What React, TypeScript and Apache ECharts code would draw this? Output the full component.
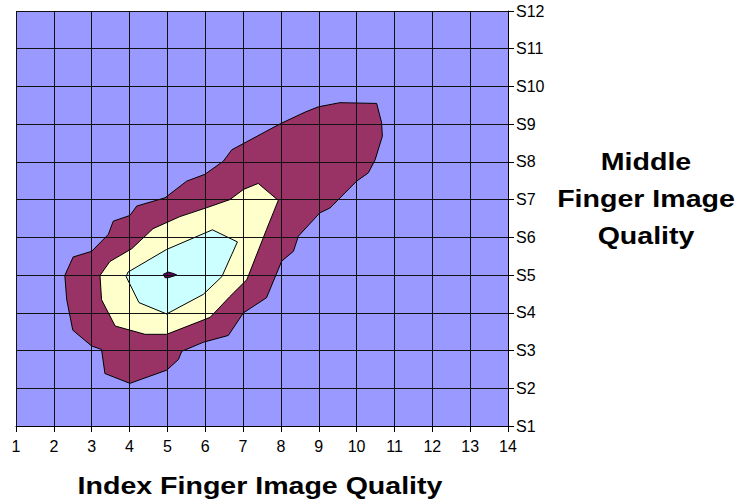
import React, { useEffect, useRef } from "react";
import * as echarts from "echarts";

// Axis values
const xTicks = [1, 2, 3, 4, 5, 6, 7, 8, 9, 10, 11, 12, 13, 14];
const yCategories = ["S1", "S2", "S3", "S4", "S5", "S6", "S7", "S8", "S9", "S10", "S11", "S12"];

// Contour band boundaries, [index quality, middle quality (1 = S1)]
const outerBand: number[][] = [
  [10.53, 9.55], [10.66, 9.04], [10.68, 8.68], [10.49, 8.06], [10.31, 7.71],
  [10.0, 7.49], [9.3, 6.78], [9.03, 6.65], [8.46, 6.03], [8.33, 5.63],
  [8.02, 5.37], [7.62, 4.4], [7.01, 4.0], [6.61, 3.4], [5.95, 3.22],
  [5.38, 2.98], [5.29, 2.76], [4.98, 2.48], [4.01, 2.13], [3.35, 2.39],
  [3.26, 3.03], [3.0, 3.12], [2.5, 3.54], [2.34, 4.35], [2.29, 4.99],
  [2.51, 5.48], [3.0, 5.63], [3.44, 6.08], [3.57, 6.43], [4.01, 6.58],
  [4.19, 6.83], [4.94, 7.05], [5.51, 7.49], [5.99, 7.67], [6.48, 8.02],
  [6.7, 8.32], [7.98, 9.01], [8.64, 9.32], [8.99, 9.46], [9.56, 9.57],
];
const middleBand: number[][] = [
  [7.4, 7.43], [7.93, 6.98], [7.62, 6.21], [7.1, 4.88], [6.65, 4.43],
  [6.13, 3.88], [4.98, 3.43], [4.41, 3.43], [3.62, 3.65], [3.26, 4.35],
  [3.22, 4.99], [3.48, 5.36], [4.06, 5.7], [4.62, 6.23], [5.33, 6.55],
  [6.05, 6.79], [6.65, 7.0], [7.01, 7.27],
];
const innerBand: number[][] = [
  [6.19, 6.2], [6.85, 5.88], [6.44, 4.96], [5.95, 4.49], [4.98, 3.97],
  [4.25, 4.27], [3.91, 4.96], [3.96, 5.08], [4.98, 5.68],
];
const peakBand: number[][] = [
  [4.89, 5.02], [5.02, 5.08], [5.17, 5.04], [5.25, 5.0], [5.02, 4.93], [4.94, 4.93],
];

const FONT = '"Liberation Sans", Arial, Helvetica, sans-serif';
const NARROW = '"Liberation Sans Narrow", "Arial Narrow", "Liberation Sans", sans-serif';

function polySeries(name: string, pts: number[][], color: string, z: number) {
  return {
    type: "custom",
    name,
    z,
    silent: true,
    coordinateSystem: "cartesian2d",
    data: pts.map((p) => [p[0], p[1]]),
    encode: { x: 0, y: 1 },
    renderItem: (params: any, api: any) => {
      if (params.dataIndex !== 0) return null;
      const points = pts.map((p) => api.coord([p[0], p[1]]));
      return {
        type: "polygon",
        shape: { points },
        style: { fill: color, stroke: "#000", lineWidth: 1 },
      };
    },
  };
}

export default function App() {
  const ref = useRef<HTMLDivElement>(null);
  useEffect(() => {
    if (!ref.current) return;
    const chart = echarts.init(ref.current, undefined, { renderer: "svg" });
    const titleStyle = { font: `bold 24px ${FONT}`, fill: "#000", textAlign: "center", textVerticalAlign: "middle" };
    const sx = 1.19;
    chart.setOption({
      animation: false,
      backgroundColor: "#fff",
      grid: { left: 16, top: 11, width: 492, height: 415, show: true, backgroundColor: "#9999FF", borderWidth: 0 },
      xAxis: {
        type: "value",
        min: xTicks[0],
        max: xTicks[xTicks.length - 1],
        interval: 1,
        z: 10,
        axisLine: { show: true, onZero: false, lineStyle: { color: "#000", width: 1 } },
        axisTick: { show: true, length: 6, lineStyle: { color: "#000" } },
        axisLabel: { color: "#000", fontSize: 16, fontFamily: NARROW, margin: 12 },
        splitLine: { show: true, lineStyle: { color: "#111", width: 1 } },
      },
      yAxis: {
        type: "value",
        position: "right",
        min: 1,
        max: yCategories.length,
        interval: 1,
        z: 10,
        axisLine: { show: true, onZero: false, lineStyle: { color: "#000", width: 1 } },
        axisTick: { show: true, length: 6, lineStyle: { color: "#000" } },
        axisLabel: {
          color: "#000",
          fontSize: 16,
          fontFamily: NARROW,
          margin: 8,
          formatter: (v: number) => yCategories[Math.round(v) - 1] ?? "",
        },
        splitLine: { show: true, lineStyle: { color: "#111", width: 1 } },
      },
      series: [
        polySeries("outer", outerBand, "#993366", 2),
        polySeries("middle", middleBand, "#FFFFCC", 3),
        polySeries("inner", innerBand, "#CCFFFF", 4),
        polySeries("peak", peakBand, "#660066", 5),
      ],
      graphic: [
        { type: "text", x: 260, y: 486, scaleX: sx, style: { ...titleStyle, text: "Index Finger Image Quality" } },
        { type: "text", x: 646, y: 162, scaleX: sx, style: { ...titleStyle, text: "Middle" } },
        { type: "text", x: 646, y: 199, scaleX: sx, style: { ...titleStyle, text: "Finger Image" } },
        { type: "text", x: 646, y: 236, scaleX: sx, style: { ...titleStyle, text: "Quality" } },
      ],
    });
    return () => chart.dispose();
  }, []);
  return <div ref={ref} style={{ position: "fixed", left: 0, top: 0, width: 740, height: 501 }} />;
}
